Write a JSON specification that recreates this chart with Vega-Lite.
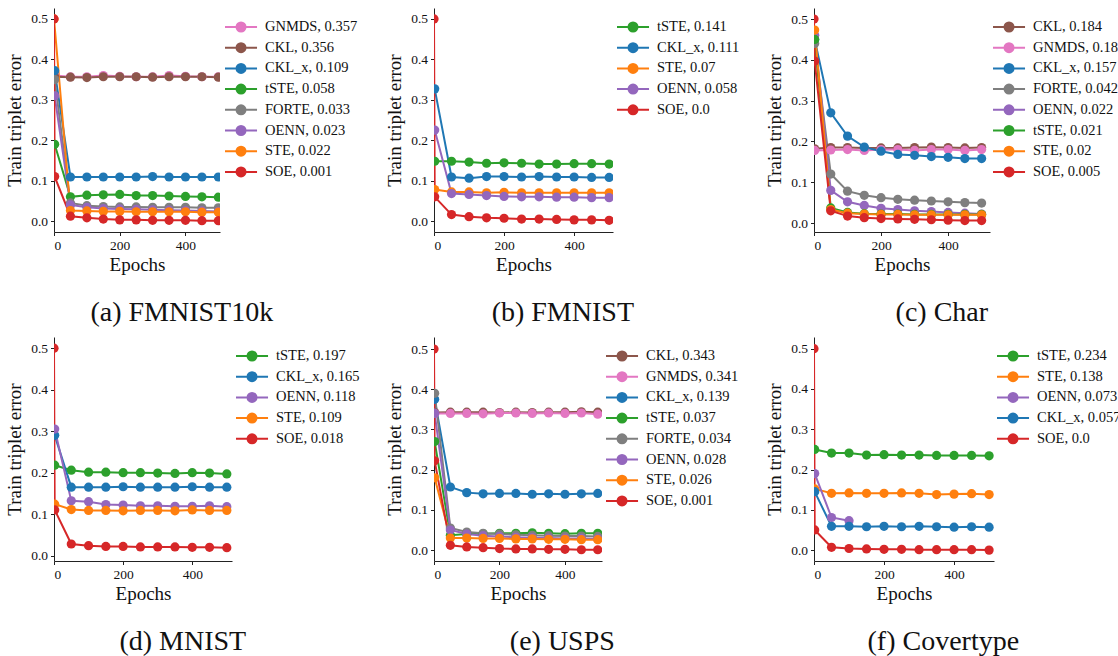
{
  "$schema": "https://vega.github.io/schema/vega-lite/v6.json",
  "padding": {"left": 5, "top": 8, "right": 0, "bottom": 0},
  "background": "white",
  "config": {
    "font": "Liberation Serif",
    "view": {"stroke": null},
    "axis": {"grid": false, "domainColor": "#222", "tickColor": "#222", "labelColor": "#111", "titleColor": "#111", "labelFont": "Liberation Serif", "titleFont": "Liberation Serif", "labelFontSize": 13.5, "titleFontSize": 19, "titleFontWeight": "normal", "tickSize": 3.5, "domainWidth": 1, "tickWidth": 1, "labelPadding": 3, "titlePadding": 6},
    "axisX": {"titlePadding": 3},
    "legend": {"orient": "none", "labelFont": "Liberation Serif", "labelFontSize": 14.5, "labelColor": "#111", "symbolType": "M-1,0L2.56,0M0.28,0A0.5,0.5,0,1,1,1.28,0A0.5,0.5,0,1,1,0.28,0Z", "symbolSize": 324, "symbolStrokeWidth": 2, "labelOffset": 21, "rowPadding": 1.7, "padding": 0, "symbolOpacity": 1, "legendY": 9},
    "title": {"font": "Liberation Serif", "fontSize": 28, "fontWeight": "normal", "orient": "bottom", "anchor": "middle", "frame": "bounds", "offset": 25, "color": "#111"}
  },
  "columns": 3,
  "spacing": {"row": 10, "column": 25},
  "resolve": {"scale": {"color": "independent", "x": "independent", "y": "independent"}},
  "datasets": {
    "a": [
      {"series": "GNMDS, 0.357", "epoch": 2, "error": 0.36}, {"series": "GNMDS, 0.357", "epoch": 50, "error": 0.357}, {"series": "GNMDS, 0.357", "epoch": 100, "error": 0.357}, {"series": "GNMDS, 0.357", "epoch": 150, "error": 0.36}, {"series": "GNMDS, 0.357", "epoch": 200, "error": 0.358}, {"series": "GNMDS, 0.357", "epoch": 250, "error": 0.357}, {"series": "GNMDS, 0.357", "epoch": 300, "error": 0.357}, {"series": "GNMDS, 0.357", "epoch": 350, "error": 0.36}, {"series": "GNMDS, 0.357", "epoch": 400, "error": 0.358}, {"series": "GNMDS, 0.357", "epoch": 450, "error": 0.357}, {"series": "GNMDS, 0.357", "epoch": 500, "error": 0.357},
      {"series": "CKL, 0.356", "epoch": 2, "error": 0.357}, {"series": "CKL, 0.356", "epoch": 50, "error": 0.356}, {"series": "CKL, 0.356", "epoch": 100, "error": 0.355}, {"series": "CKL, 0.356", "epoch": 150, "error": 0.357}, {"series": "CKL, 0.356", "epoch": 200, "error": 0.357}, {"series": "CKL, 0.356", "epoch": 250, "error": 0.357}, {"series": "CKL, 0.356", "epoch": 300, "error": 0.356}, {"series": "CKL, 0.356", "epoch": 350, "error": 0.357}, {"series": "CKL, 0.356", "epoch": 400, "error": 0.357}, {"series": "CKL, 0.356", "epoch": 450, "error": 0.357}, {"series": "CKL, 0.356", "epoch": 500, "error": 0.356},
      {"series": "CKL_x, 0.109", "epoch": 2, "error": 0.372}, {"series": "CKL_x, 0.109", "epoch": 50, "error": 0.109}, {"series": "CKL_x, 0.109", "epoch": 100, "error": 0.109}, {"series": "CKL_x, 0.109", "epoch": 150, "error": 0.109}, {"series": "CKL_x, 0.109", "epoch": 200, "error": 0.109}, {"series": "CKL_x, 0.109", "epoch": 250, "error": 0.109}, {"series": "CKL_x, 0.109", "epoch": 300, "error": 0.11}, {"series": "CKL_x, 0.109", "epoch": 350, "error": 0.109}, {"series": "CKL_x, 0.109", "epoch": 400, "error": 0.109}, {"series": "CKL_x, 0.109", "epoch": 450, "error": 0.109}, {"series": "CKL_x, 0.109", "epoch": 500, "error": 0.109},
      {"series": "tSTE, 0.058", "epoch": 2, "error": 0.19}, {"series": "tSTE, 0.058", "epoch": 50, "error": 0.06}, {"series": "tSTE, 0.058", "epoch": 100, "error": 0.064}, {"series": "tSTE, 0.058", "epoch": 150, "error": 0.065}, {"series": "tSTE, 0.058", "epoch": 200, "error": 0.066}, {"series": "tSTE, 0.058", "epoch": 250, "error": 0.063}, {"series": "tSTE, 0.058", "epoch": 300, "error": 0.063}, {"series": "tSTE, 0.058", "epoch": 350, "error": 0.062}, {"series": "tSTE, 0.058", "epoch": 400, "error": 0.061}, {"series": "tSTE, 0.058", "epoch": 450, "error": 0.06}, {"series": "tSTE, 0.058", "epoch": 500, "error": 0.059},
      {"series": "FORTE, 0.033", "epoch": 2, "error": 0.35}, {"series": "FORTE, 0.033", "epoch": 50, "error": 0.045}, {"series": "FORTE, 0.033", "epoch": 100, "error": 0.038}, {"series": "FORTE, 0.033", "epoch": 150, "error": 0.036}, {"series": "FORTE, 0.033", "epoch": 200, "error": 0.035}, {"series": "FORTE, 0.033", "epoch": 250, "error": 0.035}, {"series": "FORTE, 0.033", "epoch": 300, "error": 0.034}, {"series": "FORTE, 0.033", "epoch": 350, "error": 0.034}, {"series": "FORTE, 0.033", "epoch": 400, "error": 0.034}, {"series": "FORTE, 0.033", "epoch": 450, "error": 0.033}, {"series": "FORTE, 0.033", "epoch": 500, "error": 0.033},
      {"series": "OENN, 0.023", "epoch": 2, "error": 0.31}, {"series": "OENN, 0.023", "epoch": 50, "error": 0.04}, {"series": "OENN, 0.023", "epoch": 100, "error": 0.034}, {"series": "OENN, 0.023", "epoch": 150, "error": 0.031}, {"series": "OENN, 0.023", "epoch": 200, "error": 0.03}, {"series": "OENN, 0.023", "epoch": 250, "error": 0.029}, {"series": "OENN, 0.023", "epoch": 300, "error": 0.028}, {"series": "OENN, 0.023", "epoch": 350, "error": 0.027}, {"series": "OENN, 0.023", "epoch": 400, "error": 0.026}, {"series": "OENN, 0.023", "epoch": 450, "error": 0.025}, {"series": "OENN, 0.023", "epoch": 500, "error": 0.024},
      {"series": "STE, 0.022", "epoch": 0, "error": 0.5}, {"series": "STE, 0.022", "epoch": 50, "error": 0.026}, {"series": "STE, 0.022", "epoch": 100, "error": 0.025}, {"series": "STE, 0.022", "epoch": 150, "error": 0.024}, {"series": "STE, 0.022", "epoch": 200, "error": 0.024}, {"series": "STE, 0.022", "epoch": 250, "error": 0.023}, {"series": "STE, 0.022", "epoch": 300, "error": 0.023}, {"series": "STE, 0.022", "epoch": 350, "error": 0.023}, {"series": "STE, 0.022", "epoch": 400, "error": 0.023}, {"series": "STE, 0.022", "epoch": 450, "error": 0.022}, {"series": "STE, 0.022", "epoch": 500, "error": 0.022},
      {"series": "SOE, 0.001", "epoch": 0, "error": 0.5}, {"series": "SOE, 0.001", "epoch": 2, "error": 0.11}, {"series": "SOE, 0.001", "epoch": 50, "error": 0.012}, {"series": "SOE, 0.001", "epoch": 100, "error": 0.008}, {"series": "SOE, 0.001", "epoch": 150, "error": 0.005}, {"series": "SOE, 0.001", "epoch": 200, "error": 0.003}, {"series": "SOE, 0.001", "epoch": 250, "error": 0.003}, {"series": "SOE, 0.001", "epoch": 300, "error": 0.002}, {"series": "SOE, 0.001", "epoch": 350, "error": 0.002}, {"series": "SOE, 0.001", "epoch": 400, "error": 0.002}, {"series": "SOE, 0.001", "epoch": 450, "error": 0.001}, {"series": "SOE, 0.001", "epoch": 500, "error": 0.001}
    ],
    "b": [
      {"series": "tSTE, 0.141", "epoch": 2, "error": 0.148}, {"series": "tSTE, 0.141", "epoch": 50, "error": 0.148}, {"series": "tSTE, 0.141", "epoch": 100, "error": 0.146}, {"series": "tSTE, 0.141", "epoch": 150, "error": 0.143}, {"series": "tSTE, 0.141", "epoch": 200, "error": 0.144}, {"series": "tSTE, 0.141", "epoch": 250, "error": 0.143}, {"series": "tSTE, 0.141", "epoch": 300, "error": 0.141}, {"series": "tSTE, 0.141", "epoch": 350, "error": 0.141}, {"series": "tSTE, 0.141", "epoch": 400, "error": 0.142}, {"series": "tSTE, 0.141", "epoch": 450, "error": 0.142}, {"series": "tSTE, 0.141", "epoch": 500, "error": 0.141},
      {"series": "CKL_x, 0.111", "epoch": 2, "error": 0.327}, {"series": "CKL_x, 0.111", "epoch": 50, "error": 0.109}, {"series": "CKL_x, 0.111", "epoch": 100, "error": 0.106}, {"series": "CKL_x, 0.111", "epoch": 150, "error": 0.11}, {"series": "CKL_x, 0.111", "epoch": 200, "error": 0.11}, {"series": "CKL_x, 0.111", "epoch": 250, "error": 0.109}, {"series": "CKL_x, 0.111", "epoch": 300, "error": 0.11}, {"series": "CKL_x, 0.111", "epoch": 350, "error": 0.109}, {"series": "CKL_x, 0.111", "epoch": 400, "error": 0.109}, {"series": "CKL_x, 0.111", "epoch": 450, "error": 0.108}, {"series": "CKL_x, 0.111", "epoch": 500, "error": 0.108},
      {"series": "STE, 0.07", "epoch": 2, "error": 0.078}, {"series": "STE, 0.07", "epoch": 50, "error": 0.072}, {"series": "STE, 0.07", "epoch": 100, "error": 0.072}, {"series": "STE, 0.07", "epoch": 150, "error": 0.07}, {"series": "STE, 0.07", "epoch": 200, "error": 0.071}, {"series": "STE, 0.07", "epoch": 250, "error": 0.07}, {"series": "STE, 0.07", "epoch": 300, "error": 0.07}, {"series": "STE, 0.07", "epoch": 350, "error": 0.07}, {"series": "STE, 0.07", "epoch": 400, "error": 0.07}, {"series": "STE, 0.07", "epoch": 450, "error": 0.07}, {"series": "STE, 0.07", "epoch": 500, "error": 0.07},
      {"series": "OENN, 0.058", "epoch": 2, "error": 0.225}, {"series": "OENN, 0.058", "epoch": 50, "error": 0.068}, {"series": "OENN, 0.058", "epoch": 100, "error": 0.066}, {"series": "OENN, 0.058", "epoch": 150, "error": 0.063}, {"series": "OENN, 0.058", "epoch": 200, "error": 0.061}, {"series": "OENN, 0.058", "epoch": 250, "error": 0.06}, {"series": "OENN, 0.058", "epoch": 300, "error": 0.06}, {"series": "OENN, 0.058", "epoch": 350, "error": 0.059}, {"series": "OENN, 0.058", "epoch": 400, "error": 0.059}, {"series": "OENN, 0.058", "epoch": 450, "error": 0.058}, {"series": "OENN, 0.058", "epoch": 500, "error": 0.058},
      {"series": "SOE, 0.0", "epoch": 0, "error": 0.5}, {"series": "SOE, 0.0", "epoch": 2, "error": 0.06}, {"series": "SOE, 0.0", "epoch": 50, "error": 0.016}, {"series": "SOE, 0.0", "epoch": 100, "error": 0.011}, {"series": "SOE, 0.0", "epoch": 150, "error": 0.008}, {"series": "SOE, 0.0", "epoch": 200, "error": 0.007}, {"series": "SOE, 0.0", "epoch": 250, "error": 0.005}, {"series": "SOE, 0.0", "epoch": 300, "error": 0.005}, {"series": "SOE, 0.0", "epoch": 350, "error": 0.004}, {"series": "SOE, 0.0", "epoch": 400, "error": 0.003}, {"series": "SOE, 0.0", "epoch": 450, "error": 0.003}, {"series": "SOE, 0.0", "epoch": 500, "error": 0.002}
    ],
    "c": [
      {"series": "CKL, 0.184", "epoch": 2, "error": 0.182}, {"series": "CKL, 0.184", "epoch": 50, "error": 0.185}, {"series": "CKL, 0.184", "epoch": 100, "error": 0.185}, {"series": "CKL, 0.184", "epoch": 150, "error": 0.184}, {"series": "CKL, 0.184", "epoch": 200, "error": 0.184}, {"series": "CKL, 0.184", "epoch": 250, "error": 0.184}, {"series": "CKL, 0.184", "epoch": 300, "error": 0.185}, {"series": "CKL, 0.184", "epoch": 350, "error": 0.186}, {"series": "CKL, 0.184", "epoch": 400, "error": 0.185}, {"series": "CKL, 0.184", "epoch": 450, "error": 0.184}, {"series": "CKL, 0.184", "epoch": 500, "error": 0.185},
      {"series": "GNMDS, 0.18", "epoch": 2, "error": 0.178}, {"series": "GNMDS, 0.18", "epoch": 50, "error": 0.179}, {"series": "GNMDS, 0.18", "epoch": 100, "error": 0.18}, {"series": "GNMDS, 0.18", "epoch": 150, "error": 0.178}, {"series": "GNMDS, 0.18", "epoch": 200, "error": 0.18}, {"series": "GNMDS, 0.18", "epoch": 250, "error": 0.18}, {"series": "GNMDS, 0.18", "epoch": 300, "error": 0.178}, {"series": "GNMDS, 0.18", "epoch": 350, "error": 0.18}, {"series": "GNMDS, 0.18", "epoch": 400, "error": 0.18}, {"series": "GNMDS, 0.18", "epoch": 450, "error": 0.178}, {"series": "GNMDS, 0.18", "epoch": 500, "error": 0.18},
      {"series": "CKL_x, 0.157", "epoch": 2, "error": 0.45}, {"series": "CKL_x, 0.157", "epoch": 50, "error": 0.27}, {"series": "CKL_x, 0.157", "epoch": 100, "error": 0.213}, {"series": "CKL_x, 0.157", "epoch": 150, "error": 0.186}, {"series": "CKL_x, 0.157", "epoch": 200, "error": 0.176}, {"series": "CKL_x, 0.157", "epoch": 250, "error": 0.168}, {"series": "CKL_x, 0.157", "epoch": 300, "error": 0.166}, {"series": "CKL_x, 0.157", "epoch": 350, "error": 0.163}, {"series": "CKL_x, 0.157", "epoch": 400, "error": 0.161}, {"series": "CKL_x, 0.157", "epoch": 450, "error": 0.158}, {"series": "CKL_x, 0.157", "epoch": 500, "error": 0.158},
      {"series": "FORTE, 0.042", "epoch": 2, "error": 0.44}, {"series": "FORTE, 0.042", "epoch": 50, "error": 0.12}, {"series": "FORTE, 0.042", "epoch": 100, "error": 0.078}, {"series": "FORTE, 0.042", "epoch": 150, "error": 0.068}, {"series": "FORTE, 0.042", "epoch": 200, "error": 0.062}, {"series": "FORTE, 0.042", "epoch": 250, "error": 0.058}, {"series": "FORTE, 0.042", "epoch": 300, "error": 0.056}, {"series": "FORTE, 0.042", "epoch": 350, "error": 0.054}, {"series": "FORTE, 0.042", "epoch": 400, "error": 0.052}, {"series": "FORTE, 0.042", "epoch": 450, "error": 0.05}, {"series": "FORTE, 0.042", "epoch": 500, "error": 0.049},
      {"series": "OENN, 0.022", "epoch": 2, "error": 0.46}, {"series": "OENN, 0.022", "epoch": 50, "error": 0.08}, {"series": "OENN, 0.022", "epoch": 100, "error": 0.052}, {"series": "OENN, 0.022", "epoch": 150, "error": 0.043}, {"series": "OENN, 0.022", "epoch": 200, "error": 0.036}, {"series": "OENN, 0.022", "epoch": 250, "error": 0.033}, {"series": "OENN, 0.022", "epoch": 300, "error": 0.03}, {"series": "OENN, 0.022", "epoch": 350, "error": 0.028}, {"series": "OENN, 0.022", "epoch": 400, "error": 0.026}, {"series": "OENN, 0.022", "epoch": 450, "error": 0.024}, {"series": "OENN, 0.022", "epoch": 500, "error": 0.022},
      {"series": "tSTE, 0.021", "epoch": 2, "error": 0.45}, {"series": "tSTE, 0.021", "epoch": 50, "error": 0.037}, {"series": "tSTE, 0.021", "epoch": 100, "error": 0.026}, {"series": "tSTE, 0.021", "epoch": 150, "error": 0.023}, {"series": "tSTE, 0.021", "epoch": 200, "error": 0.022}, {"series": "tSTE, 0.021", "epoch": 250, "error": 0.022}, {"series": "tSTE, 0.021", "epoch": 300, "error": 0.021}, {"series": "tSTE, 0.021", "epoch": 350, "error": 0.021}, {"series": "tSTE, 0.021", "epoch": 400, "error": 0.021}, {"series": "tSTE, 0.021", "epoch": 450, "error": 0.021}, {"series": "tSTE, 0.021", "epoch": 500, "error": 0.021},
      {"series": "STE, 0.02", "epoch": 2, "error": 0.473}, {"series": "STE, 0.02", "epoch": 50, "error": 0.033}, {"series": "STE, 0.02", "epoch": 100, "error": 0.024}, {"series": "STE, 0.02", "epoch": 150, "error": 0.022}, {"series": "STE, 0.02", "epoch": 200, "error": 0.021}, {"series": "STE, 0.02", "epoch": 250, "error": 0.021}, {"series": "STE, 0.02", "epoch": 300, "error": 0.02}, {"series": "STE, 0.02", "epoch": 350, "error": 0.02}, {"series": "STE, 0.02", "epoch": 400, "error": 0.02}, {"series": "STE, 0.02", "epoch": 450, "error": 0.02}, {"series": "STE, 0.02", "epoch": 500, "error": 0.02},
      {"series": "SOE, 0.005", "epoch": 0, "error": 0.5}, {"series": "SOE, 0.005", "epoch": 2, "error": 0.397}, {"series": "SOE, 0.005", "epoch": 50, "error": 0.03}, {"series": "SOE, 0.005", "epoch": 100, "error": 0.017}, {"series": "SOE, 0.005", "epoch": 150, "error": 0.013}, {"series": "SOE, 0.005", "epoch": 200, "error": 0.011}, {"series": "SOE, 0.005", "epoch": 250, "error": 0.01}, {"series": "SOE, 0.005", "epoch": 300, "error": 0.009}, {"series": "SOE, 0.005", "epoch": 350, "error": 0.008}, {"series": "SOE, 0.005", "epoch": 400, "error": 0.007}, {"series": "SOE, 0.005", "epoch": 450, "error": 0.006}, {"series": "SOE, 0.005", "epoch": 500, "error": 0.006}
    ],
    "d": [
      {"series": "tSTE, 0.197", "epoch": 2, "error": 0.218}, {"series": "tSTE, 0.197", "epoch": 50, "error": 0.206}, {"series": "tSTE, 0.197", "epoch": 100, "error": 0.201}, {"series": "tSTE, 0.197", "epoch": 150, "error": 0.201}, {"series": "tSTE, 0.197", "epoch": 200, "error": 0.2}, {"series": "tSTE, 0.197", "epoch": 250, "error": 0.2}, {"series": "tSTE, 0.197", "epoch": 300, "error": 0.199}, {"series": "tSTE, 0.197", "epoch": 350, "error": 0.198}, {"series": "tSTE, 0.197", "epoch": 400, "error": 0.2}, {"series": "tSTE, 0.197", "epoch": 450, "error": 0.199}, {"series": "tSTE, 0.197", "epoch": 500, "error": 0.197},
      {"series": "CKL_x, 0.165", "epoch": 2, "error": 0.29}, {"series": "CKL_x, 0.165", "epoch": 50, "error": 0.165}, {"series": "CKL_x, 0.165", "epoch": 100, "error": 0.165}, {"series": "CKL_x, 0.165", "epoch": 150, "error": 0.165}, {"series": "CKL_x, 0.165", "epoch": 200, "error": 0.166}, {"series": "CKL_x, 0.165", "epoch": 250, "error": 0.165}, {"series": "CKL_x, 0.165", "epoch": 300, "error": 0.165}, {"series": "CKL_x, 0.165", "epoch": 350, "error": 0.165}, {"series": "CKL_x, 0.165", "epoch": 400, "error": 0.166}, {"series": "CKL_x, 0.165", "epoch": 450, "error": 0.165}, {"series": "CKL_x, 0.165", "epoch": 500, "error": 0.165},
      {"series": "OENN, 0.118", "epoch": 2, "error": 0.305}, {"series": "OENN, 0.118", "epoch": 50, "error": 0.132}, {"series": "OENN, 0.118", "epoch": 100, "error": 0.13}, {"series": "OENN, 0.118", "epoch": 150, "error": 0.123}, {"series": "OENN, 0.118", "epoch": 200, "error": 0.122}, {"series": "OENN, 0.118", "epoch": 250, "error": 0.12}, {"series": "OENN, 0.118", "epoch": 300, "error": 0.12}, {"series": "OENN, 0.118", "epoch": 350, "error": 0.119}, {"series": "OENN, 0.118", "epoch": 400, "error": 0.119}, {"series": "OENN, 0.118", "epoch": 450, "error": 0.12}, {"series": "OENN, 0.118", "epoch": 500, "error": 0.118},
      {"series": "STE, 0.109", "epoch": 2, "error": 0.124}, {"series": "STE, 0.109", "epoch": 50, "error": 0.111}, {"series": "STE, 0.109", "epoch": 100, "error": 0.109}, {"series": "STE, 0.109", "epoch": 150, "error": 0.109}, {"series": "STE, 0.109", "epoch": 200, "error": 0.108}, {"series": "STE, 0.109", "epoch": 250, "error": 0.109}, {"series": "STE, 0.109", "epoch": 300, "error": 0.109}, {"series": "STE, 0.109", "epoch": 350, "error": 0.108}, {"series": "STE, 0.109", "epoch": 400, "error": 0.11}, {"series": "STE, 0.109", "epoch": 450, "error": 0.109}, {"series": "STE, 0.109", "epoch": 500, "error": 0.109},
      {"series": "SOE, 0.018", "epoch": 0, "error": 0.5}, {"series": "SOE, 0.018", "epoch": 2, "error": 0.11}, {"series": "SOE, 0.018", "epoch": 50, "error": 0.028}, {"series": "SOE, 0.018", "epoch": 100, "error": 0.024}, {"series": "SOE, 0.018", "epoch": 150, "error": 0.022}, {"series": "SOE, 0.018", "epoch": 200, "error": 0.022}, {"series": "SOE, 0.018", "epoch": 250, "error": 0.021}, {"series": "SOE, 0.018", "epoch": 300, "error": 0.021}, {"series": "SOE, 0.018", "epoch": 350, "error": 0.021}, {"series": "SOE, 0.018", "epoch": 400, "error": 0.02}, {"series": "SOE, 0.018", "epoch": 450, "error": 0.02}, {"series": "SOE, 0.018", "epoch": 500, "error": 0.019}
    ],
    "e": [
      {"series": "CKL, 0.343", "epoch": 2, "error": 0.342}, {"series": "CKL, 0.343", "epoch": 50, "error": 0.343}, {"series": "CKL, 0.343", "epoch": 100, "error": 0.343}, {"series": "CKL, 0.343", "epoch": 150, "error": 0.343}, {"series": "CKL, 0.343", "epoch": 200, "error": 0.342}, {"series": "CKL, 0.343", "epoch": 250, "error": 0.343}, {"series": "CKL, 0.343", "epoch": 300, "error": 0.342}, {"series": "CKL, 0.343", "epoch": 350, "error": 0.343}, {"series": "CKL, 0.343", "epoch": 400, "error": 0.343}, {"series": "CKL, 0.343", "epoch": 450, "error": 0.344}, {"series": "CKL, 0.343", "epoch": 500, "error": 0.343},
      {"series": "GNMDS, 0.341", "epoch": 2, "error": 0.34}, {"series": "GNMDS, 0.341", "epoch": 50, "error": 0.34}, {"series": "GNMDS, 0.341", "epoch": 100, "error": 0.34}, {"series": "GNMDS, 0.341", "epoch": 150, "error": 0.339}, {"series": "GNMDS, 0.341", "epoch": 200, "error": 0.341}, {"series": "GNMDS, 0.341", "epoch": 250, "error": 0.341}, {"series": "GNMDS, 0.341", "epoch": 300, "error": 0.34}, {"series": "GNMDS, 0.341", "epoch": 350, "error": 0.341}, {"series": "GNMDS, 0.341", "epoch": 400, "error": 0.34}, {"series": "GNMDS, 0.341", "epoch": 450, "error": 0.341}, {"series": "GNMDS, 0.341", "epoch": 500, "error": 0.338},
      {"series": "CKL_x, 0.139", "epoch": 2, "error": 0.375}, {"series": "CKL_x, 0.139", "epoch": 50, "error": 0.157}, {"series": "CKL_x, 0.139", "epoch": 100, "error": 0.143}, {"series": "CKL_x, 0.139", "epoch": 150, "error": 0.14}, {"series": "CKL_x, 0.139", "epoch": 200, "error": 0.141}, {"series": "CKL_x, 0.139", "epoch": 250, "error": 0.141}, {"series": "CKL_x, 0.139", "epoch": 300, "error": 0.139}, {"series": "CKL_x, 0.139", "epoch": 350, "error": 0.14}, {"series": "CKL_x, 0.139", "epoch": 400, "error": 0.139}, {"series": "CKL_x, 0.139", "epoch": 450, "error": 0.14}, {"series": "CKL_x, 0.139", "epoch": 500, "error": 0.141},
      {"series": "tSTE, 0.037", "epoch": 2, "error": 0.27}, {"series": "tSTE, 0.037", "epoch": 50, "error": 0.037}, {"series": "tSTE, 0.037", "epoch": 100, "error": 0.04}, {"series": "tSTE, 0.037", "epoch": 150, "error": 0.041}, {"series": "tSTE, 0.037", "epoch": 200, "error": 0.042}, {"series": "tSTE, 0.037", "epoch": 250, "error": 0.042}, {"series": "tSTE, 0.037", "epoch": 300, "error": 0.043}, {"series": "tSTE, 0.037", "epoch": 350, "error": 0.042}, {"series": "tSTE, 0.037", "epoch": 400, "error": 0.041}, {"series": "tSTE, 0.037", "epoch": 450, "error": 0.042}, {"series": "tSTE, 0.037", "epoch": 500, "error": 0.042},
      {"series": "FORTE, 0.034", "epoch": 2, "error": 0.39}, {"series": "FORTE, 0.034", "epoch": 50, "error": 0.055}, {"series": "FORTE, 0.034", "epoch": 100, "error": 0.045}, {"series": "FORTE, 0.034", "epoch": 150, "error": 0.042}, {"series": "FORTE, 0.034", "epoch": 200, "error": 0.04}, {"series": "FORTE, 0.034", "epoch": 250, "error": 0.038}, {"series": "FORTE, 0.034", "epoch": 300, "error": 0.037}, {"series": "FORTE, 0.034", "epoch": 350, "error": 0.036}, {"series": "FORTE, 0.034", "epoch": 400, "error": 0.035}, {"series": "FORTE, 0.034", "epoch": 450, "error": 0.035}, {"series": "FORTE, 0.034", "epoch": 500, "error": 0.034},
      {"series": "OENN, 0.028", "epoch": 2, "error": 0.34}, {"series": "OENN, 0.028", "epoch": 50, "error": 0.05}, {"series": "OENN, 0.028", "epoch": 100, "error": 0.04}, {"series": "OENN, 0.028", "epoch": 150, "error": 0.036}, {"series": "OENN, 0.028", "epoch": 200, "error": 0.034}, {"series": "OENN, 0.028", "epoch": 250, "error": 0.032}, {"series": "OENN, 0.028", "epoch": 300, "error": 0.031}, {"series": "OENN, 0.028", "epoch": 350, "error": 0.03}, {"series": "OENN, 0.028", "epoch": 400, "error": 0.029}, {"series": "OENN, 0.028", "epoch": 450, "error": 0.029}, {"series": "OENN, 0.028", "epoch": 500, "error": 0.028},
      {"series": "STE, 0.026", "epoch": 2, "error": 0.18}, {"series": "STE, 0.026", "epoch": 50, "error": 0.03}, {"series": "STE, 0.026", "epoch": 100, "error": 0.03}, {"series": "STE, 0.026", "epoch": 150, "error": 0.029}, {"series": "STE, 0.026", "epoch": 200, "error": 0.029}, {"series": "STE, 0.026", "epoch": 250, "error": 0.028}, {"series": "STE, 0.026", "epoch": 300, "error": 0.028}, {"series": "STE, 0.026", "epoch": 350, "error": 0.027}, {"series": "STE, 0.026", "epoch": 400, "error": 0.027}, {"series": "STE, 0.026", "epoch": 450, "error": 0.026}, {"series": "STE, 0.026", "epoch": 500, "error": 0.026},
      {"series": "SOE, 0.001", "epoch": 0, "error": 0.5}, {"series": "SOE, 0.001", "epoch": 2, "error": 0.222}, {"series": "SOE, 0.001", "epoch": 50, "error": 0.012}, {"series": "SOE, 0.001", "epoch": 100, "error": 0.008}, {"series": "SOE, 0.001", "epoch": 150, "error": 0.006}, {"series": "SOE, 0.001", "epoch": 200, "error": 0.004}, {"series": "SOE, 0.001", "epoch": 250, "error": 0.003}, {"series": "SOE, 0.001", "epoch": 300, "error": 0.003}, {"series": "SOE, 0.001", "epoch": 350, "error": 0.002}, {"series": "SOE, 0.001", "epoch": 400, "error": 0.002}, {"series": "SOE, 0.001", "epoch": 450, "error": 0.001}, {"series": "SOE, 0.001", "epoch": 500, "error": 0.001}
    ],
    "f": [
      {"series": "tSTE, 0.234", "epoch": 2, "error": 0.25}, {"series": "tSTE, 0.234", "epoch": 50, "error": 0.241}, {"series": "tSTE, 0.234", "epoch": 100, "error": 0.241}, {"series": "tSTE, 0.234", "epoch": 150, "error": 0.236}, {"series": "tSTE, 0.234", "epoch": 200, "error": 0.237}, {"series": "tSTE, 0.234", "epoch": 250, "error": 0.236}, {"series": "tSTE, 0.234", "epoch": 300, "error": 0.236}, {"series": "tSTE, 0.234", "epoch": 350, "error": 0.235}, {"series": "tSTE, 0.234", "epoch": 400, "error": 0.235}, {"series": "tSTE, 0.234", "epoch": 450, "error": 0.235}, {"series": "tSTE, 0.234", "epoch": 500, "error": 0.234},
      {"series": "STE, 0.138", "epoch": 2, "error": 0.152}, {"series": "STE, 0.138", "epoch": 50, "error": 0.141}, {"series": "STE, 0.138", "epoch": 100, "error": 0.142}, {"series": "STE, 0.138", "epoch": 150, "error": 0.141}, {"series": "STE, 0.138", "epoch": 200, "error": 0.141}, {"series": "STE, 0.138", "epoch": 250, "error": 0.142}, {"series": "STE, 0.138", "epoch": 300, "error": 0.141}, {"series": "STE, 0.138", "epoch": 350, "error": 0.138}, {"series": "STE, 0.138", "epoch": 400, "error": 0.139}, {"series": "STE, 0.138", "epoch": 450, "error": 0.14}, {"series": "STE, 0.138", "epoch": 500, "error": 0.138},
      {"series": "OENN, 0.073", "epoch": 2, "error": 0.19}, {"series": "OENN, 0.073", "epoch": 50, "error": 0.081}, {"series": "OENN, 0.073", "epoch": 100, "error": 0.073},
      {"series": "CKL_x, 0.057", "epoch": 2, "error": 0.145}, {"series": "CKL_x, 0.057", "epoch": 50, "error": 0.059}, {"series": "CKL_x, 0.057", "epoch": 100, "error": 0.059}, {"series": "CKL_x, 0.057", "epoch": 150, "error": 0.058}, {"series": "CKL_x, 0.057", "epoch": 200, "error": 0.059}, {"series": "CKL_x, 0.057", "epoch": 250, "error": 0.058}, {"series": "CKL_x, 0.057", "epoch": 300, "error": 0.059}, {"series": "CKL_x, 0.057", "epoch": 350, "error": 0.058}, {"series": "CKL_x, 0.057", "epoch": 400, "error": 0.057}, {"series": "CKL_x, 0.057", "epoch": 450, "error": 0.058}, {"series": "CKL_x, 0.057", "epoch": 500, "error": 0.057},
      {"series": "SOE, 0.0", "epoch": 0, "error": 0.5}, {"series": "SOE, 0.0", "epoch": 2, "error": 0.05}, {"series": "SOE, 0.0", "epoch": 50, "error": 0.007}, {"series": "SOE, 0.0", "epoch": 100, "error": 0.004}, {"series": "SOE, 0.0", "epoch": 150, "error": 0.003}, {"series": "SOE, 0.0", "epoch": 200, "error": 0.002}, {"series": "SOE, 0.0", "epoch": 250, "error": 0.002}, {"series": "SOE, 0.0", "epoch": 300, "error": 0.001}, {"series": "SOE, 0.0", "epoch": 350, "error": 0.001}, {"series": "SOE, 0.0", "epoch": 400, "error": 0.001}, {"series": "SOE, 0.0", "epoch": 450, "error": 0.001}, {"series": "SOE, 0.0", "epoch": 500, "error": 0.0}
    ]
  },
  "concat": [
    {
      "width": 166, "height": 224,
      "title": {"text": "(a) FMNIST10k", "font": "Liberation Serif"},
      "data": {"name": "a"},
      "encoding": {
        "x": {"field": "epoch", "type": "quantitative", "scale": {"domain": [0, 505], "nice": false, "zero": false}, "axis": {"values": [0, 200, 400], "title": "Epochs"}},
        "y": {"field": "error", "type": "quantitative", "scale": {"domain": [-0.027, 0.527], "nice": false, "zero": false}, "axis": {"values": [0, 0.1, 0.2, 0.3, 0.4, 0.5], "format": ".1f", "title": "Train triplet error"}},
        "color": {"field": "series", "type": "nominal", "sort": null, "scale": {"domain": ["GNMDS, 0.357", "CKL, 0.356", "CKL_x, 0.109", "tSTE, 0.058", "FORTE, 0.033", "OENN, 0.023", "STE, 0.022", "SOE, 0.001"], "range": ["#e377c2", "#8c564b", "#1f77b4", "#2ca02c", "#7f7f7f", "#9467bd", "#ff7f0e", "#d62728"]}, "legend": {"title": null, "legendX": 170, "labelFont": "Liberation Serif"}}
      },
      "layer": [
        {"mark": {"type": "line", "strokeWidth": 2, "clip": true}},
        {"mark": {"type": "point", "filled": true, "size": 85, "opacity": 1, "clip": true}}
      ]
    },
    {
      "width": 179, "height": 224,
      "title": {"text": "(b) FMNIST", "font": "Liberation Serif"},
      "data": {"name": "b"},
      "encoding": {
        "x": {"field": "epoch", "type": "quantitative", "scale": {"domain": [0, 511], "nice": false, "zero": false}, "axis": {"values": [0, 200, 400], "title": "Epochs"}},
        "y": {"field": "error", "type": "quantitative", "scale": {"domain": [-0.027, 0.527], "nice": false, "zero": false}, "axis": {"values": [0, 0.1, 0.2, 0.3, 0.4, 0.5], "format": ".1f", "title": "Train triplet error"}},
        "color": {"field": "series", "type": "nominal", "sort": null, "scale": {"domain": ["tSTE, 0.141", "CKL_x, 0.111", "STE, 0.07", "OENN, 0.058", "SOE, 0.0"], "range": ["#2ca02c", "#1f77b4", "#ff7f0e", "#9467bd", "#d62728"]}, "legend": {"title": null, "legendX": 182, "labelFont": "Liberation Serif"}}
      },
      "layer": [
        {"mark": {"type": "line", "strokeWidth": 2, "clip": true}},
        {"mark": {"type": "point", "filled": true, "size": 85, "opacity": 1, "clip": true}}
      ]
    },
    {
      "width": 176, "height": 224,
      "title": {"text": "(c) Char", "font": "Liberation Serif"},
      "data": {"name": "c"},
      "encoding": {
        "x": {"field": "epoch", "type": "quantitative", "scale": {"domain": [0, 525], "nice": false, "zero": false}, "axis": {"values": [0, 200, 400], "title": "Epochs"}},
        "y": {"field": "error", "type": "quantitative", "scale": {"domain": [-0.022, 0.527], "nice": false, "zero": false}, "axis": {"values": [0, 0.1, 0.2, 0.3, 0.4, 0.5], "format": ".1f", "title": "Train triplet error"}},
        "color": {"field": "series", "type": "nominal", "sort": null, "scale": {"domain": ["CKL, 0.184", "GNMDS, 0.18", "CKL_x, 0.157", "FORTE, 0.042", "OENN, 0.022", "tSTE, 0.021", "STE, 0.02", "SOE, 0.005"], "range": ["#8c564b", "#e377c2", "#1f77b4", "#7f7f7f", "#9467bd", "#2ca02c", "#ff7f0e", "#d62728"]}, "legend": {"title": null, "legendX": 178, "labelFont": "Liberation Serif"}}
      },
      "layer": [
        {"mark": {"type": "line", "strokeWidth": 2, "clip": true}},
        {"mark": {"type": "point", "filled": true, "size": 85, "opacity": 1, "clip": true}}
      ]
    },
    {
      "width": 178, "height": 224,
      "title": {"text": "(d) MNIST", "font": "Liberation Serif"},
      "data": {"name": "d"},
      "encoding": {
        "x": {"field": "epoch", "type": "quantitative", "scale": {"domain": [0, 515], "nice": false, "zero": false}, "axis": {"values": [0, 200, 400], "title": "Epochs"}},
        "y": {"field": "error", "type": "quantitative", "scale": {"domain": [-0.013, 0.527], "nice": false, "zero": false}, "axis": {"values": [0, 0.1, 0.2, 0.3, 0.4, 0.5], "format": ".1f", "title": "Train triplet error"}},
        "color": {"field": "series", "type": "nominal", "sort": null, "scale": {"domain": ["tSTE, 0.197", "CKL_x, 0.165", "OENN, 0.118", "STE, 0.109", "SOE, 0.018"], "range": ["#2ca02c", "#1f77b4", "#9467bd", "#ff7f0e", "#d62728"]}, "legend": {"title": null, "legendX": 181, "labelFont": "Liberation Serif"}}
      },
      "layer": [
        {"mark": {"type": "line", "strokeWidth": 2, "clip": true}},
        {"mark": {"type": "point", "filled": true, "size": 85, "opacity": 1, "clip": true}}
      ]
    },
    {
      "width": 168, "height": 224,
      "title": {"text": "(e) USPS", "font": "Liberation Serif"},
      "data": {"name": "e"},
      "encoding": {
        "x": {"field": "epoch", "type": "quantitative", "scale": {"domain": [0, 513], "nice": false, "zero": false}, "axis": {"values": [0, 200, 400], "title": "Epochs"}},
        "y": {"field": "error", "type": "quantitative", "scale": {"domain": [-0.027, 0.53], "nice": false, "zero": false}, "axis": {"values": [0, 0.1, 0.2, 0.3, 0.4, 0.5], "format": ".1f", "title": "Train triplet error"}},
        "color": {"field": "series", "type": "nominal", "sort": null, "scale": {"domain": ["CKL, 0.343", "GNMDS, 0.341", "CKL_x, 0.139", "tSTE, 0.037", "FORTE, 0.034", "OENN, 0.028", "STE, 0.026", "SOE, 0.001"], "range": ["#8c564b", "#e377c2", "#1f77b4", "#2ca02c", "#7f7f7f", "#9467bd", "#ff7f0e", "#d62728"]}, "legend": {"title": null, "legendX": 171, "labelFont": "Liberation Serif"}}
      },
      "layer": [
        {"mark": {"type": "line", "strokeWidth": 2, "clip": true}},
        {"mark": {"type": "point", "filled": true, "size": 85, "opacity": 1, "clip": true}}
      ]
    },
    {
      "width": 180, "height": 224,
      "title": {"text": "(f) Covertype", "font": "Liberation Serif"},
      "data": {"name": "f"},
      "encoding": {
        "x": {"field": "epoch", "type": "quantitative", "scale": {"domain": [0, 514], "nice": false, "zero": false}, "axis": {"values": [0, 200, 400], "title": "Epochs"}},
        "y": {"field": "error", "type": "quantitative", "scale": {"domain": [-0.027, 0.529], "nice": false, "zero": false}, "axis": {"values": [0, 0.1, 0.2, 0.3, 0.4, 0.5], "format": ".1f", "title": "Train triplet error"}},
        "color": {"field": "series", "type": "nominal", "sort": null, "scale": {"domain": ["tSTE, 0.234", "STE, 0.138", "OENN, 0.073", "CKL_x, 0.057", "SOE, 0.0"], "range": ["#2ca02c", "#ff7f0e", "#9467bd", "#1f77b4", "#d62728"]}, "legend": {"title": null, "legendX": 182, "labelFont": "Liberation Serif"}}
      },
      "layer": [
        {"mark": {"type": "line", "strokeWidth": 2, "clip": true}},
        {"mark": {"type": "point", "filled": true, "size": 85, "opacity": 1, "clip": true}}
      ]
    }
  ]
}
